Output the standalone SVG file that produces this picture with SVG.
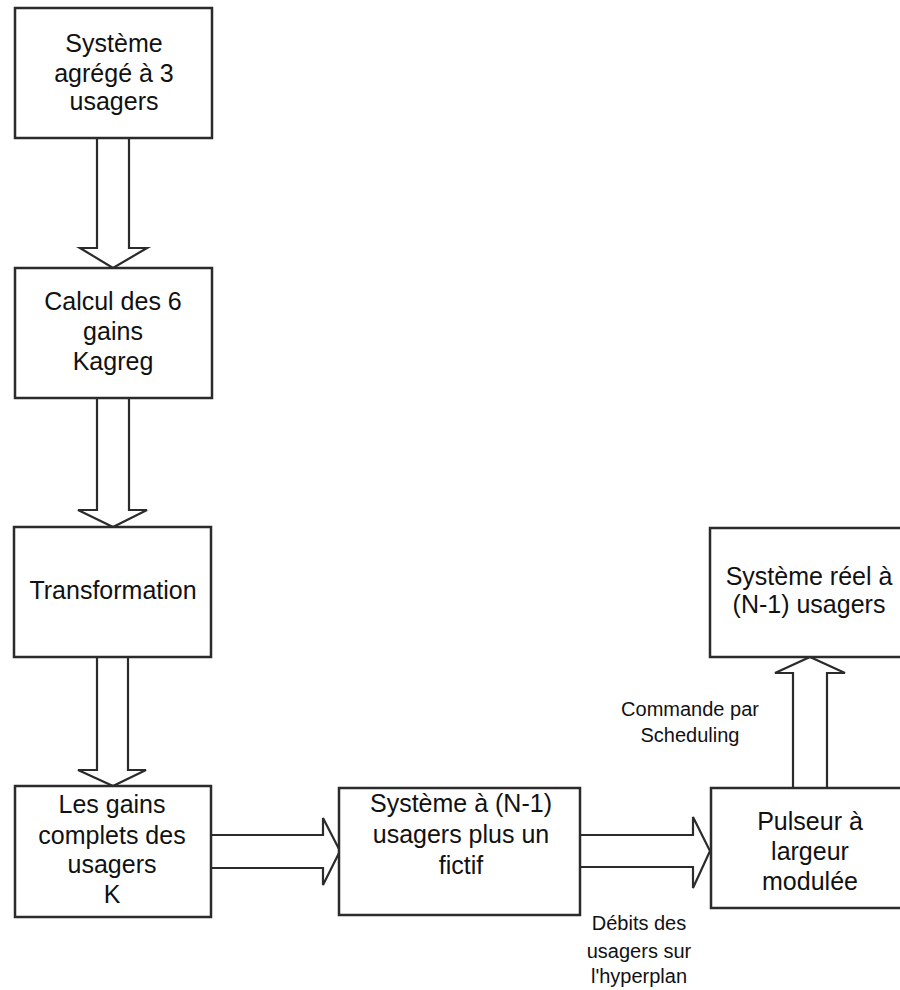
<svg xmlns="http://www.w3.org/2000/svg" width="900" height="990" viewBox="0 0 900 990">
<style>
.box{fill:#fff;stroke:#2b2b2b;stroke-width:2.5}
.arr{fill:none;stroke:#2b2b2b;stroke-width:2.2;stroke-linejoin:miter}
.t{font-family:"Liberation Sans",Arial,sans-serif;font-size:25px;fill:#111;text-anchor:middle}
.l{font-family:"Liberation Sans",Arial,sans-serif;font-size:20px;fill:#111;text-anchor:middle}
</style>
<rect width="900" height="990" fill="#fff"/>
<g id="connectors">
<path class="arr" d="M97,138 V248 H80 L113,268 L147,248 H129 V138"/>
<path class="arr" d="M97,398 V510 H78 L113,527 L147,510 H129 V398"/>
<path class="arr" d="M97,657 V770 H78 L113,786 L146,770 H128 V657"/>
<path class="arr" d="M211,835 H323 V818 L340,851 L323,885 V868 H211"/>
<path class="arr" d="M580,835 H693 V817 L710,851 L693,888 V867 H580"/>
<path class="arr" d="M793,788 V673 H775 L810,657 L845,673 H827 V788"/>
</g>
<g id="n1">
<rect class="box" x="15" y="8" width="197" height="130"/>
<text class="t" x="114" y="52">Système</text>
<text class="t" x="114" y="82">agrégé à 3</text>
<text class="t" x="114" y="110">usagers</text>
</g>
<g id="n2">
<rect class="box" x="15" y="268" width="197" height="130"/>
<text class="t" x="113" y="310">Calcul des 6</text>
<text class="t" x="113" y="340">gains</text>
<text class="t" x="113" y="370">Kagreg</text>
</g>
<g id="n3">
<rect class="box" x="14" y="527" width="197" height="130"/>
<text class="t" x="113" y="599">Transformation</text>
</g>
<g id="n4">
<rect class="box" x="15" y="786" width="196" height="131"/>
<text class="t" x="112" y="813">Les gains</text>
<text class="t" x="112" y="844">complets des</text>
<text class="t" x="112" y="873">usagers</text>
<text class="t" x="112" y="903">K</text>
</g>
<g id="n5">
<rect class="box" x="339" y="788" width="241" height="127"/>
<text class="t" x="461" y="812">Système à (N-1)</text>
<text class="t" x="461" y="843">usagers plus un</text>
<text class="t" x="461" y="874">fictif</text>
</g>
<g id="n6">
<rect class="box" x="711" y="788" width="200" height="120"/>
<text class="t" x="810" y="830">Pulseur à</text>
<text class="t" x="810" y="860">largeur</text>
<text class="t" x="810" y="890">modulée</text>
</g>
<g id="n7">
<rect class="box" x="710" y="528" width="200" height="129"/>
<text class="t" x="809" y="585">Système réel à</text>
<text class="t" x="809" y="613">(N-1) usagers</text>
</g>
<g id="labels">
<text class="l" x="690" y="716">Commande par</text>
<text class="l" x="690" y="742">Scheduling</text>
<text class="l" x="639" y="930">Débits des</text>
<text class="l" x="639" y="958">usagers sur</text>
<text class="l" x="639" y="983">l'hyperplan</text>
</g>
</svg>
